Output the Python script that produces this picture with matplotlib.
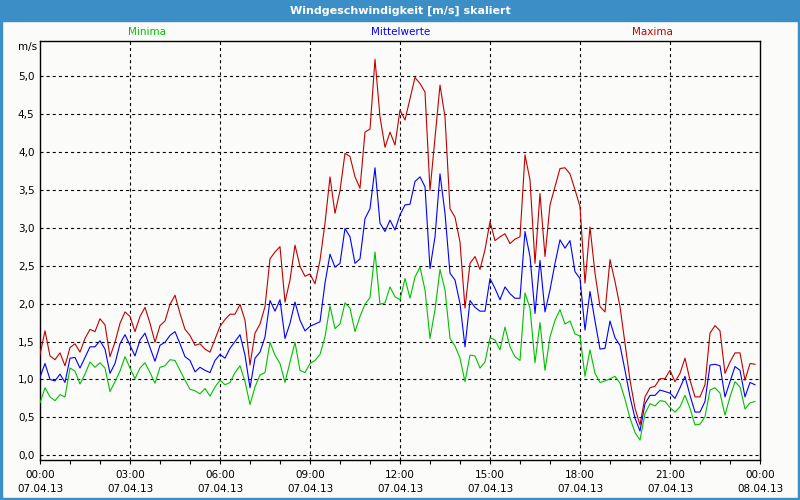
import matplotlib
matplotlib.use("Agg")
import matplotlib.pyplot as plt
import numpy as np
from matplotlib.patches import Rectangle
from matplotlib.ticker import FuncFormatter

# 10-minute values, 07.04.13 00:00 ... 23:50
minima = [0.69, 0.89, 0.77, 0.72, 0.80, 0.77, 1.15, 1.11, 0.94, 1.07, 1.23, 1.16, 1.22, 1.15, 0.84,
          0.97, 1.11, 1.30, 1.15, 1.01, 1.15, 1.22, 1.09, 0.95, 1.16, 1.18, 1.26, 1.25, 1.12, 0.99,
          0.87, 0.85, 0.81, 0.88, 0.78, 0.90, 0.99, 0.93, 0.96, 1.09, 1.18, 0.97, 0.67, 0.90,
          1.06, 1.09, 1.49, 1.32, 1.21, 0.96, 1.23, 1.49, 1.12, 1.09, 1.21, 1.25, 1.33, 1.56,
          1.97, 1.67, 1.73, 2.01, 1.94, 1.63, 1.83, 1.99, 2.08, 2.68, 1.99, 2.01, 2.22, 2.09,
          2.05, 2.33, 2.07, 2.35, 2.48, 2.18, 1.54, 1.92, 2.45, 2.18, 1.54, 1.44, 1.28, 0.97,
          1.32, 1.31, 1.15, 1.23, 1.55, 1.52, 1.39, 1.69, 1.43, 1.30, 1.25, 2.14, 1.94, 1.22, 1.75,
          1.12, 1.56, 1.78, 1.92, 1.73, 1.77, 1.60, 1.57, 1.04, 1.39, 1.08, 0.96, 0.98, 1.01, 1.04,
          0.95, 0.74, 0.49, 0.30, 0.20, 0.55, 0.68, 0.65, 0.72, 0.71, 0.63, 0.57, 0.64, 0.79,
          0.62, 0.40, 0.41, 0.51, 0.86, 0.89, 0.82, 0.53, 0.77, 0.97, 0.90, 0.61, 0.69, 0.71]

mittel = [1.03, 1.21, 1.00, 0.98, 1.07, 0.96, 1.28, 1.29, 1.15, 1.29, 1.43, 1.43, 1.51, 1.40, 1.08,
          1.21, 1.47, 1.59, 1.45, 1.31, 1.52, 1.61, 1.42, 1.24, 1.45, 1.49, 1.58, 1.63, 1.47, 1.30,
          1.25, 1.10, 1.16, 1.12, 1.09, 1.25, 1.33, 1.28, 1.41, 1.50, 1.59, 1.32, 0.89, 1.28,
          1.36, 1.56, 2.04, 1.90, 2.05, 1.54, 1.74, 2.02, 1.78, 1.64, 1.70, 1.73, 1.76, 2.27,
          2.65, 2.48, 2.53, 2.99, 2.88, 2.53, 2.59, 3.12, 3.25, 3.79, 3.06, 2.95, 3.10, 2.97,
          3.17, 3.30, 3.31, 3.61, 3.67, 3.54, 2.46, 2.88, 3.71, 3.19, 2.40, 2.31, 2.00, 1.43,
          2.04, 1.95, 1.90, 1.90, 2.33, 2.20, 2.05, 2.22, 2.13, 2.07, 2.07, 2.95, 2.62, 1.87, 2.57,
          1.89, 2.18, 2.53, 2.84, 2.73, 2.83, 2.42, 2.33, 1.65, 2.16, 1.77, 1.40, 1.41, 1.77, 1.55,
          1.45, 1.12, 0.77, 0.49, 0.32, 0.68, 0.79, 0.79, 0.86, 0.84, 0.82, 0.75, 0.89, 1.04,
          0.79, 0.57, 0.57, 0.71, 1.19, 1.20, 1.18, 0.77, 0.97, 1.17, 1.12, 0.77, 0.96, 0.93]

maxima = [1.33, 1.64, 1.31, 1.26, 1.35, 1.18, 1.42, 1.47, 1.36, 1.54, 1.66, 1.63, 1.80, 1.72, 1.30,
          1.49, 1.74, 1.89, 1.83, 1.63, 1.83, 1.95, 1.74, 1.49, 1.71, 1.77, 1.99, 2.11, 1.87, 1.66,
          1.58, 1.45, 1.47, 1.40, 1.36, 1.53, 1.70, 1.79, 1.86, 1.86, 1.99, 1.78, 1.19, 1.61,
          1.73, 1.96, 2.59, 2.68, 2.75, 2.02, 2.31, 2.77, 2.49, 2.36, 2.39, 2.26, 2.57, 3.06,
          3.67, 3.19, 3.49, 3.98, 3.94, 3.67, 3.52, 4.26, 4.30, 5.22, 4.46, 4.06, 4.26, 4.09,
          4.55, 4.42, 4.70, 4.98, 4.90, 4.79, 3.49, 4.18, 4.88, 4.46, 3.25, 3.14, 2.81, 1.94,
          2.53, 2.62, 2.45, 2.71, 3.08, 2.83, 2.88, 2.92, 2.79, 2.85, 2.88, 3.96, 3.63, 2.53, 3.45,
          2.62, 3.30, 3.54, 3.78, 3.79, 3.71, 3.50, 3.28, 2.27, 3.01, 2.40, 1.96, 1.89, 2.58, 2.29,
          1.96, 1.47, 0.99, 0.62, 0.40, 0.77, 0.89, 0.91, 1.01, 1.01, 1.12, 0.97, 1.08, 1.28,
          0.99, 0.77, 0.77, 0.93, 1.61, 1.71, 1.64, 1.08, 1.23, 1.35, 1.35, 0.99, 1.21, 1.20]

tick_hours = [0, 3, 6, 9, 12, 15, 18, 21, 24]
tick_labels = ["00:00\n07.04.13", "03:00\n07.04.13", "06:00\n07.04.13", "09:00\n07.04.13",
               "12:00\n07.04.13", "15:00\n07.04.13", "18:00\n07.04.13", "21:00\n07.04.13",
               "00:00\n08.04.13"]

# sample interval 10 minutes -> hours
hours = np.arange(len(mittel)) * 10 / 60

plt.rcParams["font.family"] = ["DejaVu Sans"]
plt.rcParams["lines.scale_dashes"] = False

bg = "#fbfcf9"
frame_blue = "#3c8fc6"

fig = plt.figure(figsize=(8, 5), dpi=100, facecolor=bg)

# window frame: title bar + thin borders
fig.patches.append(Rectangle((0, 1 - 20.5 / 500), 1, 20.5 / 500, transform=fig.transFigure,
                             color=frame_blue, zorder=0))
fig.patches.append(Rectangle((0, 0), 2 / 800, 1, transform=fig.transFigure, color=frame_blue, zorder=0))
fig.patches.append(Rectangle((1 - 2 / 800, 0), 2 / 800, 1, transform=fig.transFigure, color=frame_blue, zorder=0))
fig.patches.append(Rectangle((0, 0), 1, 2 / 500, transform=fig.transFigure, color=frame_blue, zorder=0))

fig.text(0.5, 1 - 10.5 / 500, "Windgeschwindigkeit [m/s] skaliert", color="white",
         fontsize=8, fontweight="bold", ha="center", va="center")

fig.text(147 / 800, 1 - 32 / 500, "Minima", color="#00c000", fontsize=7.5, ha="center", va="center")
fig.text(401 / 800, 1 - 32 / 500, "Mittelwerte", color="#0000ff", fontsize=7.5, ha="center", va="center")
fig.text(652 / 800, 1 - 32 / 500, "Maxima", color="#c00000", fontsize=7.5, ha="center", va="center")
fig.text(37 / 800, 1 - 47 / 500, "m/s", color="black", fontsize=7.5, ha="right", va="center")

ax = fig.add_axes([40 / 800, 40 / 500, 720 / 800, 419.3 / 500])
ax.set_facecolor(bg)

ax.plot(hours, minima, color="#00c000", lw=0.8, zorder=3)
ax.plot(hours, mittel, color="#0000ff", lw=0.8, zorder=4)
ax.plot(hours, maxima, color="#c00000", lw=0.8, zorder=5)

ax.set_xlim(0, 24)
ax.set_ylim(-0.062, 5.465)

ax.set_xticks(tick_hours)
ax.set_xticklabels(tick_labels, linespacing=1.55)
ax.set_xticks(range(0, 25), minor=True)
ax.tick_params(axis="x", which="both", direction="out", length=3, width=0.8, pad=4,
               labelsize=7.5, colors="black")

ax.set_yticks(np.arange(0, 5.01, 0.5))
ax.yaxis.set_major_formatter(FuncFormatter(lambda v, p: f"{v:.1f}".replace(".", ",")))
ax.tick_params(axis="y", length=0, pad=4, labelsize=7.5)

for h in tick_hours[1:-1]:
    ax.axvline(h, color="black", lw=0.8, linestyle=(0, (2.2, 2.2)), zorder=1)
for v in np.arange(0, 5.01, 0.5):
    ax.axhline(v, color="black", lw=0.8, linestyle=(0, (2.2, 2.2)), zorder=1)

for s in ax.spines.values():
    s.set_color("black")
    s.set_linewidth(1.0)

fig.savefig("out.png", dpi=100, facecolor=bg)
